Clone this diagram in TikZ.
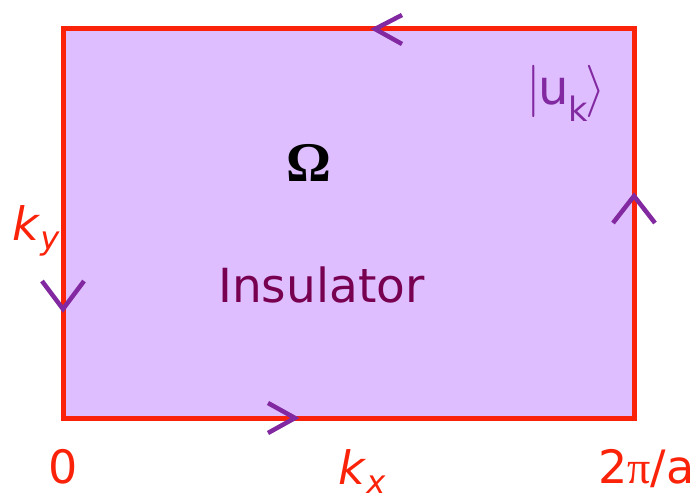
\documentclass[tikz,border=0pt]{standalone}
\usepackage{fontspec}
\setmainfont{DejaVu Sans}
\newfontfamily\symfont{Liberation Serif}
\usepackage{graphicx}
\usepackage{tikz}
\usetikzlibrary{positioning, calc}
\definecolor{cred}   {RGB}{250,35,10}
\definecolor{cfill}  {RGB}{222,190,255}
\definecolor{cchev}  {RGB}{130,40,160}
\definecolor{cins}   {RGB}{120,0,80}
\newcommand{\bigdelim}[1]{\scalebox{2.1}{\fontsize{24}{24}\selectfont$#1$}}
\tikzset{
  zone/.style={draw=cred, fill=cfill, line width=5pt},
  chev/.style={draw=cchev, line width=4.5pt},
  lbl/.style={inner sep=0pt, anchor=base west, text=cred,
              font=\fontsize{46}{46}\selectfont},
}

\begin{document}
\begin{tikzpicture}[x=1pt, y=-1pt]
  \useasboundingbox (0,0) rectangle (697,503);

  % -- Brillouin zone ---------------------------------------------------------
  \coordinate (sw) at (63,418);
  \coordinate (ne) at (634,29);
  \draw[zone] (sw) rectangle (ne);

  % -- Chevrons on the edges ----------------------------------------------------
  \coordinate (ctop)   at (375,29);
  \coordinate (cright) at (634,196);
  \coordinate (cleft)  at (63,309);
  \coordinate (cbot)   at (295,418);
  \draw[chev] ($(ctop)+(27,-14)$)   -- (ctop)   -- ++(27,15);
  \draw[chev] ($(cright)+(-21,27)$) -- (cright) -- ++(21,27);
  \draw[chev] ($(cleft)+(-21,-28)$) -- (cleft)  -- ++(21,-28);
  \draw[chev] ($(cbot)+(-27,-15)$)  -- (cbot)   -- ++(-27,15);

  % -- Labels -----------------------------------------------------------------
  \node[lbl] (zero) at (48,483) {0};
  \node[lbl] (kx)   at (338,484) {\textit{k}\textsubscript{\textit{x}}};
  \node[lbl] (end)  at (598,483) {2{\symfont π}/a};
  \node[lbl] (ky)   at (12,240) {\textit{k}\textsubscript{\textit{y}}};
  \node[lbl, text=black, font=\fontsize{56}{56}\selectfont\symfont\bfseries]
      (omega) at (286,182) {Ω};
  \node[lbl, text=cins, font=\fontsize{47}{47}\selectfont]
      (ins) at (218,302) {Insulator};
  \node[lbl, text=cchev, font=\fontsize{48}{48}\selectfont]
      (state) at (526,105) {\bigdelim{|}\kern-2pt u\kern-1pt\textsubscript{k}\kern-3pt\bigdelim{\rangle}};
\end{tikzpicture}
\end{document}
